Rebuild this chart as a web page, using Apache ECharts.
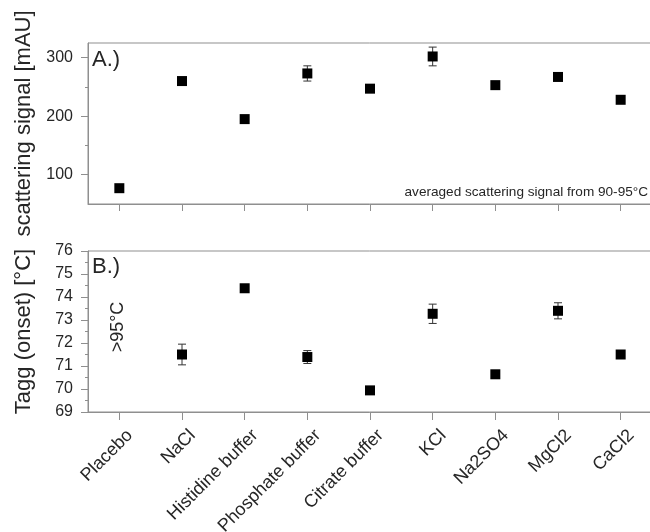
<!DOCTYPE html>
<html><head><meta charset="utf-8">
<script src="https://cdn.jsdelivr.net/npm/echarts@6/dist/echarts.min.js"></script>
<style>html,body{margin:0;padding:0;background:#fff}#c{width:650px;height:532px}</style>
</head><body><div id="c"></div>
<script>
const categories = ['Placebo','NaCl','Histidine buffer','Phosphate buffer','Citrate buffer','KCl','Na2SO4','MgCl2','CaCl2'];
const signalValues = [77, 260, 195, 273, 247, 302, 253, 267, 228];
const signalErrors = [0, 0, 0, 13, 0, 16, 0, 0, 0];
const taggValues = [null, 71.5, 74.38, 71.39, 69.94, 73.27, 70.64, 73.4, 71.5];
const taggErrors = [0, 0.45, 0, 0.28, 0, 0.42, 0, 0.35, 0];
const signalMajorTicks = [100, 200, 300];
const signalMinorTicks = [150, 250];

const FONT = '"Liberation Sans", Arial, sans-serif';
const AX = '#8f8f8f';
const TXT = '#262626';

const chart = echarts.init(document.getElementById('c'), null, {renderer: 'canvas'});

function errorSeries(xi, yi, vals, errs) {
  return {
    type: 'custom', xAxisIndex: xi, yAxisIndex: yi, z: 3, silent: true,
    data: categories.map((c, i) => [i, vals[i], errs[i]]).filter(d => d[1] != null && d[2] > 0),
    encode: {x: 0, y: 1},
    renderItem(params, api) {
      const x = api.value(0), y = api.value(1), e = api.value(2);
      const t = api.coord([x, y + e]), b = api.coord([x, y - e]);
      const hw = 4;
      const st = {stroke: '#333', lineWidth: 1};
      return {type: 'group', children: [
        {type: 'line', shape: {x1: t[0], y1: t[1], x2: b[0], y2: b[1]}, style: st},
        {type: 'line', shape: {x1: t[0] - hw, y1: t[1], x2: t[0] + hw, y2: t[1]}, style: st},
        {type: 'line', shape: {x1: b[0] - hw, y1: b[1], x2: b[0] + hw, y2: b[1]}, style: st}
      ]};
    }
  };
}

const option = {
  animation: false,
  backgroundColor: '#fff',
  textStyle: {fontFamily: FONT},
  grid: [
    {left: 88, right: -2, top: 43, height: 161, show: true, borderColor: AX, borderWidth: 1, outerBoundsMode: 'none', containLabel: false},
    {left: 88, right: -2, top: 251, height: 161, show: true, borderColor: AX, borderWidth: 1, outerBoundsMode: 'none', containLabel: false}
  ],
  xAxis: [
    {type: 'category', gridIndex: 0, data: categories,
     axisLine: {show: true, lineStyle: {color: AX}},
     axisTick: {show: true, interval: 0, alignWithLabel: true, length: 7, lineStyle: {color: AX}},
     axisLabel: {show: false}, splitLine: {show: false}},
    {type: 'category', gridIndex: 1, data: categories,
     axisLine: {show: true, lineStyle: {color: AX}},
     axisTick: {show: true, interval: 0, alignWithLabel: true, length: 8, lineStyle: {color: AX}},
     axisLabel: {rotate: 45, fontSize: 18, color: TXT, fontFamily: FONT, margin: 10, interval: 0,
                 verticalAlign: 'top', padding: [6, 0, 0, 0]},
     splitLine: {show: false}}
  ],
  yAxis: [
    {type: 'value', gridIndex: 0, min: 50, max: 325,
     name: 'scattering signal [mAU]', nameLocation: 'middle', nameGap: 53,
     nameTextStyle: {fontSize: 22, color: TXT, fontFamily: FONT},
     axisLine: {show: true, lineStyle: {color: AX}},
     axisTick: {show: true, length: 7, customValues: signalMajorTicks, lineStyle: {color: AX}},
     axisLabel: {fontSize: 16, color: TXT, fontFamily: FONT, margin: 15, customValues: signalMajorTicks},
     splitLine: {show: false}},
    {type: 'value', gridIndex: 0, min: 50, max: 325, position: 'left',
     axisLine: {show: false},
     axisTick: {show: true, length: 3, customValues: signalMinorTicks, lineStyle: {color: AX}},
     axisLabel: {show: false}, splitLine: {show: false}},
    {type: 'value', gridIndex: 1, min: 69, max: 76, interval: 1,
     name: 'Tagg (onset) [°C]', nameLocation: 'middle', nameGap: 53,
     nameTextStyle: {fontSize: 22, color: TXT, fontFamily: FONT},
     axisLine: {show: true, lineStyle: {color: AX}},
     axisTick: {show: true, length: 7, lineStyle: {color: AX}},
     minorTick: {show: true, splitNumber: 2, length: 3, lineStyle: {color: AX}},
     axisLabel: {fontSize: 16, color: TXT, fontFamily: FONT, margin: 15},
     splitLine: {show: false}}
  ],
  series: [
    errorSeries(0, 0, signalValues, signalErrors),
    {type: 'scatter', xAxisIndex: 0, yAxisIndex: 0, symbol: 'rect', symbolSize: 10, z: 4,
     itemStyle: {color: '#000', opacity: 1}, data: signalValues},
    errorSeries(1, 2, taggValues, taggErrors),
    {type: 'scatter', xAxisIndex: 1, yAxisIndex: 2, symbol: 'rect', symbolSize: 10, z: 4,
     itemStyle: {color: '#000', opacity: 1}, data: taggValues.map(v => v == null ? '-' : v)}
  ],
  graphic: [
    {type: 'text', left: 92, top: 49, style: {text: 'A.)', font: '22px ' + FONT, fill: TXT}},
    {type: 'text', left: 92, top: 256, style: {text: 'B.)', font: '22px ' + FONT, fill: TXT}},
    {type: 'text', x: 118, y: 327, rotation: Math.PI / 2,
     style: {text: '>95°C', font: '18px ' + FONT, fill: TXT, align: 'center', verticalAlign: 'middle'}},
    {type: 'text', x: 648, y: 192,
     style: {text: 'averaged scattering signal from 90-95°C', font: '13.6px ' + FONT, fill: TXT, align: 'right', verticalAlign: 'middle'}}
  ]
};
chart.setOption(option);
</script>
</body></html>
